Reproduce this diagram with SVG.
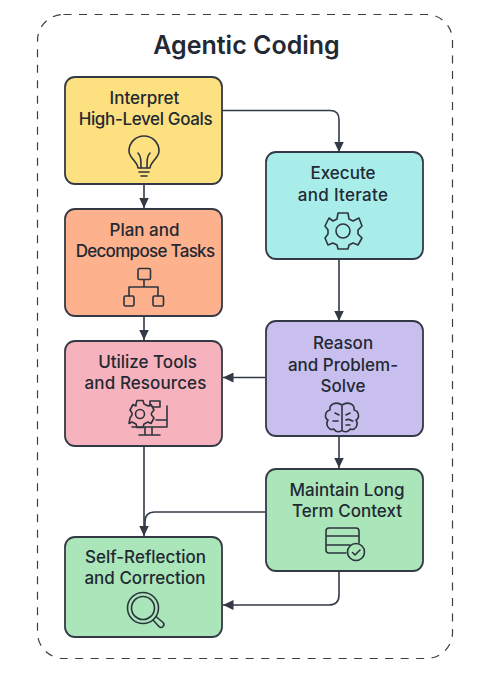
<svg xmlns="http://www.w3.org/2000/svg" width="488" height="673" viewBox="0 0 488 673">
<style>
text{font-family:Inter,"Liberation Sans",sans-serif;fill:#232933;text-anchor:middle;font-weight:500;font-size:17px}
.t{font-size:25px;font-weight:600}
.n{stroke:#333a45;stroke-width:1.8}
.i{fill:none;stroke:#2d343e;stroke-width:1.6;stroke-linecap:round;stroke-linejoin:round}
.c{fill:none;stroke:#333a45;stroke-width:1.6;stroke-linejoin:round}
.a{marker-end:url(#ah)}
</style>
<defs><marker id="ah" markerUnits="userSpaceOnUse" markerWidth="12" markerHeight="10" refX="10.5" refY="5" orient="auto"><path d="M0,0L10.5,5L0,10Z" fill="#333a45"/></marker></defs>
<rect width="488" height="673" fill="#fff"/>
<rect id="frame" x="37.500" y="14.500" width="415" height="644" rx="26" fill="none" stroke="#3a3f48" stroke-width="1.2" stroke-dasharray="8 7.500"/>
<text class="t" x="246.500" y="54">Agentic Coding</text>
<g id="connectors">
<path class="c a" d="M144,184V208"/>
<path class="c a" d="M144,316V340"/>
<path class="c a" d="M144,446V536"/>
<path class="c a" d="M222,110.500H330Q339,110.500 339,119.500V152"/>
<path class="c a" d="M339,259V321"/>
<path class="c a" d="M265,377.500H223"/>
<path class="c a" d="M339,436V468"/>
<path class="c" d="M265,512H155Q145,512 145,522V530"/>
<path class="c a" d="M339,571V595Q339,605 329,605H223"/>
</g>
<g id="interpret">
<rect class="n" x="65" y="77" width="157" height="107" rx="10" fill="#fde07f"/>
<text x="144.500" y="104">Interpret</text><text x="145.500" y="125" letter-spacing="-0.35">High-Level Goals</text>
<path class="i" d="M138,168C137,161 129,158 129,151A15,15 0 0 1 159,151C159,158 151,161 150,168ZM139,172H149M141,176H147M141,168C141,160 141,156 138,153M147,168C147,160 147,156 150,153"/>
</g>
<g id="plan">
<rect class="n" x="65" y="209" width="157" height="107" rx="10" fill="#fdb18c"/>
<text x="144.500" y="236">Plan and</text><text x="145" y="257" letter-spacing="-0.7">Decompose Tasks</text>
<rect class="i" x="138" y="268.500" width="12.500" height="11" rx="1.500"/><rect class="i" x="124" y="296" width="10" height="10" rx="1.500"/><rect class="i" x="153" y="296" width="10.500" height="10" rx="1.500"/>
<path class="i" d="M144,280V287M129,296V287H158V296"/>
</g>
<g id="execute">
<rect class="n" x="266" y="152" width="157" height="107" rx="10" fill="#a8edea"/>
<text x="343" y="179">Execute</text><text x="343" y="201" letter-spacing="0.3">and Iterate</text>
<path class="i" d="M338,213H348L349,219L353,221L359,218L362,226L358,230V234L362,238L358,245L353,243L349,245L348,249H338L337,245L333,243L328,245L325,238L328,234V230L325,226L329,218L333,221L337,219Z"/>
<circle class="i" cx="343" cy="231" r="7"/>
</g>
<g id="reason">
<rect class="n" x="266" y="321" width="157" height="115" rx="10" fill="#c8bfee"/>
<text x="343" y="349">Reason</text><text x="343" y="370.500">and Problem-</text><text x="343" y="392">Solve</text>
<path class="i" d="M342,405C336,401 329,404 330,410C325,411 324,418 328,420C325,425 329,431 334,429C336,433 341,432 342,430ZM342,405C348,401 355,404 354,410C359,411 360,418 356,420C359,425 355,431 350,429C348,433 343,432 342,430ZM335,413L339,415M333,421H338M346,415L350,413M346,420C349,418 351,421 353,421M346,425L350,425"/>
</g>
<g id="utilize">
<rect class="n" x="65" y="341" width="157" height="105" rx="10" fill="#f7b3bd"/>
<text x="147.500" y="367.500">Utilize Tools</text><text x="145.500" y="389" letter-spacing="0.1">and Resources</text>
<path class="i" d="M137,400.500H143L144,404L148,406L151,404.500L154,410L151.500,413L151.500,415L154,418L151,423.500L148,422L144,424L143,427.500H137L136,424L132,422L129,423.500L130,418L132,415V413L130,410L133,404.500L136,406L136,404Z"/>
<circle class="i" cx="140" cy="414" r="4.500"/>
<path class="i" d="M150,406V401H160V407H153M167,406V427H132M167,420H156M145,428V435M152,428V435M139,435H160"/>
</g>
<g id="maintain">
<rect class="n" x="266" y="469" width="157" height="102" rx="10" fill="#aae6b9"/>
<text x="347" y="496">Maintain Long</text><text x="347" y="517">Term Context</text>
<path class="i" d="M346,553H329Q326,553 326,550V531Q326,528 329,528H356Q359,528 359,531V543M326,536H359M326,545H350"/>
<circle class="i" cx="356" cy="552" r="8.500"/><path class="i" d="M352.500,552.500L355,555L360,550"/>
</g>
<g id="reflection">
<rect class="n" x="65" y="537" width="157" height="100" rx="10" fill="#aae6b9"/>
<text x="145.500" y="563">Self-Reflection</text><text x="145" y="584">and Correction</text>
<circle class="i" cx="143" cy="608" r="15.500"/><circle class="i" cx="143" cy="608" r="11.500"/>
<path class="i" d="M153,620L159,626.500Q161,628.500 163,626.500Q165,624.500 163,622.500L156,616.500"/>
</g>
</svg>
